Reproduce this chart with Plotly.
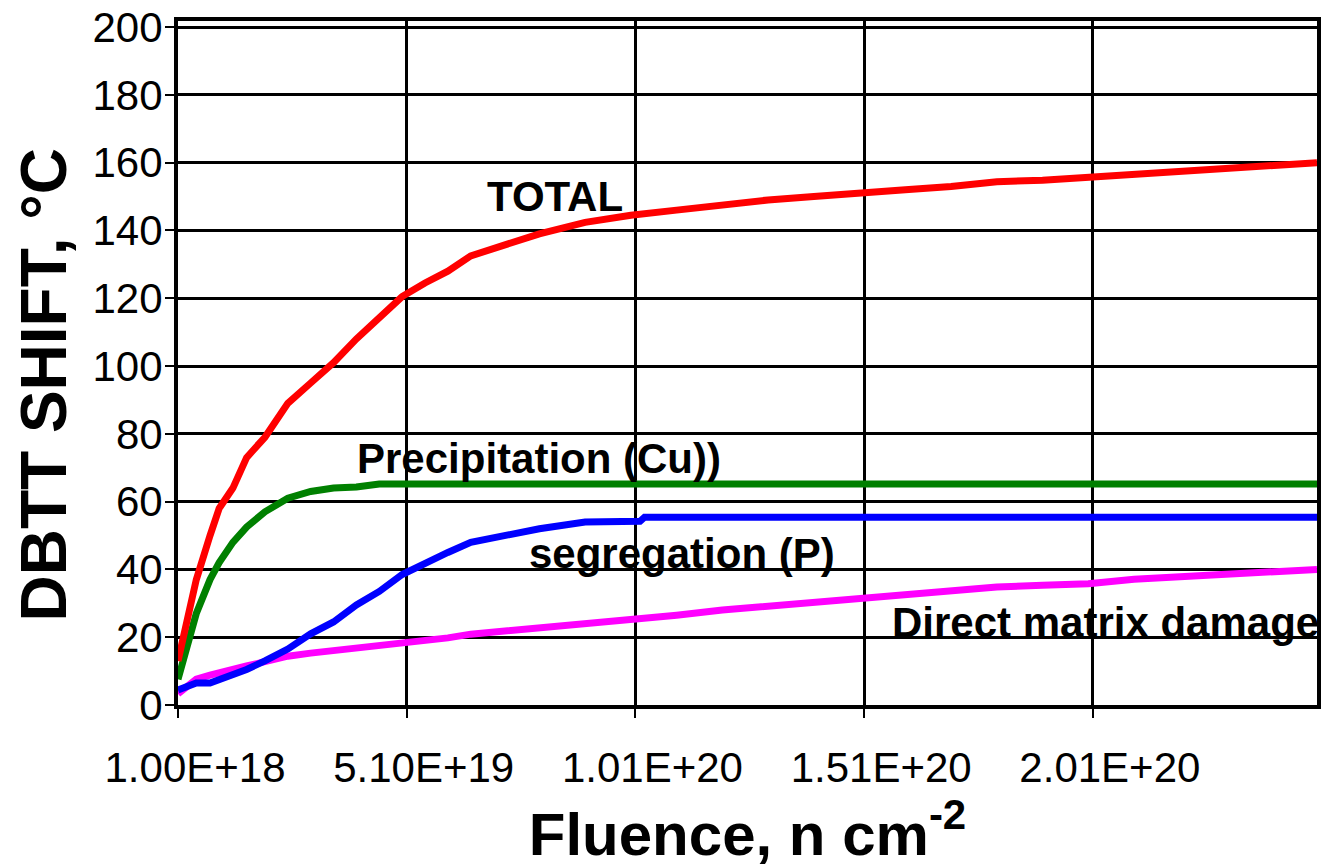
import plotly.graph_objects as go

# Fluence sample points (units of 1e18 n/cm^2)
fluence_idx = [1, 3, 5, 8, 10, 13, 16, 20, 25, 30, 35, 40, 45, 50, 55, 60, 65, 70,
               80, 90, 100, 110, 120, 130, 140, 150, 160, 170, 180, 190, 200,
               210, 220, 230, 240, 250]
fluence = [v * 1e18 for v in fluence_idx]

total = [13, 26, 37, 50, 58, 64, 73, 79, 89, 95, 101, 108, 114, 120.5, 124.5, 128,
         132.5, 134.5, 139, 142.4, 144.5, 146, 147.6, 149, 150, 151.2, 152, 153,
         154.4, 154.8, 155.6, 156.6, 157.6, 158.2, 158.8, 160]

precipitation = [7.6, 18, 27, 37, 42, 48, 52.5, 57, 61, 63, 64, 64.3, 65.2, 65.2,
                 65.2, 65.2, 65.2, 65.2, 65.2, 65.2, 65.2, 65.2, 65.2, 65.2, 65.2,
                 65.2, 65.2, 65.2, 65.2, 65.2, 65.2, 65.2, 65.2, 65.2, 65.2, 65.2]

seg_idx = [1, 3, 5, 8, 10, 13, 16, 20, 25, 30, 35, 40, 45, 50, 55, 60, 65, 70,
           80, 90, 100, 102, 103, 150, 200, 250]
seg_fluence = [v * 1e18 for v in seg_idx]
segregation = [4.4, 5.5, 6.5, 6.5, 7.5, 8.5, 10.5, 13, 16.5, 21, 24.5, 29.5, 33.5,
               38.5, 42, 45, 48, 49.5, 52, 54, 54.2, 54.2, 55.4, 55.4, 55.4, 55.4]

matrix = [3.3, 5.5, 7.6, 8.8, 9.6, 10.3, 11.5, 12.8, 14.4, 15.3, 16, 16.7, 17.2,
          18.2, 19.1, 19.8, 20.9, 21.5, 22.5, 23.8, 25.3, 26.5, 28, 29.1, 30.2,
          31.4, 32.4, 33.5, 34.8, 35.3, 35.8, 37.1, 37.9, 38.9, 39.4, 40]

tick_vals = [1e18, 5.1e19, 1.01e20, 1.51e20, 2.01e20]
tick_text = ["1.00E+18", "5.10E+19", "1.01E+20", "1.51E+20", "2.01E+20"]

labels = ["TOTAL", "Precipitation (Cu))", "segregation (P)", "Direct matrix damage"]
label_x = [8.335e19, 7.99e19, 1.112e20, 2.038e20]
label_y = [150, 72.6, 44.7, 24.4]

fig = go.Figure()
lw = 7
fig.add_trace(go.Scatter(x=fluence, y=matrix, mode="lines",
                         line=dict(color="#FF00FF", width=lw), name="Direct matrix damage"))
fig.add_trace(go.Scatter(x=seg_fluence, y=segregation, mode="lines",
                         line=dict(color="#0000FF", width=lw), name="segregation (P)"))
fig.add_trace(go.Scatter(x=fluence, y=precipitation, mode="lines",
                         line=dict(color="#008000", width=lw), name="Precipitation (Cu)"))
fig.add_trace(go.Scatter(x=fluence, y=total, mode="lines",
                         line=dict(color="#FF0000", width=lw), name="TOTAL"))

for t, x, y in zip(labels, label_x, label_y):
    fig.add_annotation(x=x, y=y, text="<b>" + t + "</b>", showarrow=False,
                       xanchor="center", yanchor="middle",
                       font=dict(family="Liberation Sans, Arial", size=42, color="black"))

fig.add_annotation(xref="paper", yref="paper", x=-0.118, y=0.468,
                   text="<b>DBTT SHIFT, °C</b>", textangle=-90, showarrow=False,
                   xanchor="center", yanchor="middle",
                   font=dict(family="Liberation Sans, Arial", size=64, color="black"))

fig.update_layout(
    width=1325, height=868,
    margin=dict(l=178, r=4, t=19, b=163),
    paper_bgcolor="white", plot_bgcolor="white",
    showlegend=False,
    font=dict(family="Liberation Sans, Arial", color="black"),
    xaxis=dict(
        range=[1e18, 2.5e20],
        tickmode="array", tickvals=tick_vals, ticktext=tick_text,
        showgrid=True, gridcolor="black", gridwidth=2.5,
        showline=True, linecolor="black", linewidth=4, mirror=True,
        ticks="outside", ticklen=9, tickwidth=2, tickcolor="black",
        tickfont=dict(family="Liberation Sans, Arial", size=42, color="black"),
        ticklabelstandoff=14, ticklabelshift=17,
        zeroline=False,
        title=dict(text="<b>Fluence, n cm<sup>-2</sup></b>",
                   font=dict(family="Liberation Sans, Arial", size=60, color="black"),
                   standoff=14),
    ),
    yaxis=dict(
        range=[0, 201.8],
        tickmode="array", tickvals=list(range(0, 201, 20)),
        showgrid=True, gridcolor="black", gridwidth=2.5,
        showline=True, linecolor="black", linewidth=4, mirror=True,
        ticks="outside", ticklen=9, tickwidth=2, tickcolor="black",
        tickfont=dict(family="Liberation Sans, Arial", size=42, color="black"),
        ticklabelstandoff=-6,
        zeroline=False,
    ),
)

fig.write_html("out.html")
